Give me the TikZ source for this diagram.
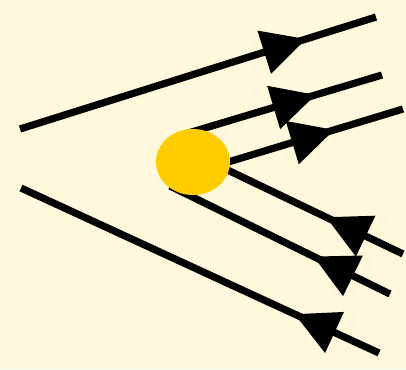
\documentclass[tikz,border=0pt]{standalone}
\usepackage{tikz}
\usetikzlibrary{arrows.meta,shapes.geometric,decorations.markings}
\definecolor{creme}{HTML}{FFF8DC}
\definecolor{soleil}{HTML}{FFCC00}
\tikzset{
  ray/.style={line width=0.18cm, draw=black,
              decoration={markings, mark=at position #1 with {\arrow{Triangle[length=1.1cm, width=1.08cm]}}},
              postaction={decorate}},
  sun/.style={ellipse, fill=soleil, minimum width=1.85cm, minimum height=1.65cm, inner sep=0pt},
}
\begin{document}
\begin{tikzpicture}[x=0.025cm, y=-0.025cm]
\fill[creme] (0,0) rectangle (406,369);
\useasboundingbox (0,0) rectangle (406,369);
% ray ends
\coordinate (r1a) at (20,129);  \coordinate (r1b) at (376,17);
\coordinate (r2a) at (185,134); \coordinate (r2b) at (382,75);
\coordinate (r3a) at (215,166); \coordinate (r3b) at (403,109);
\coordinate (r4a) at (215,164); \coordinate (r4b) at (403,254);
\coordinate (r5a) at (170,186); \coordinate (r5b) at (390,294);
\coordinate (r6a) at (21,188);  \coordinate (r6b) at (379,353);
% outgoing rays
\draw[ray=0.804] (r1a) -- (r1b);
\draw[ray=0.664] (r2a) -- (r2b);
\draw[ray=0.635] (r3a) -- (r3b);
% incoming rays
\draw[ray=0.41] (r4b) -- (r4a);
\draw[ray=0.348] (r5b) -- (r5a);
\draw[ray=0.236] (r6b) -- (r6a);
\node[sun] (s) at (193,162) {};
\end{tikzpicture}
\end{document}
